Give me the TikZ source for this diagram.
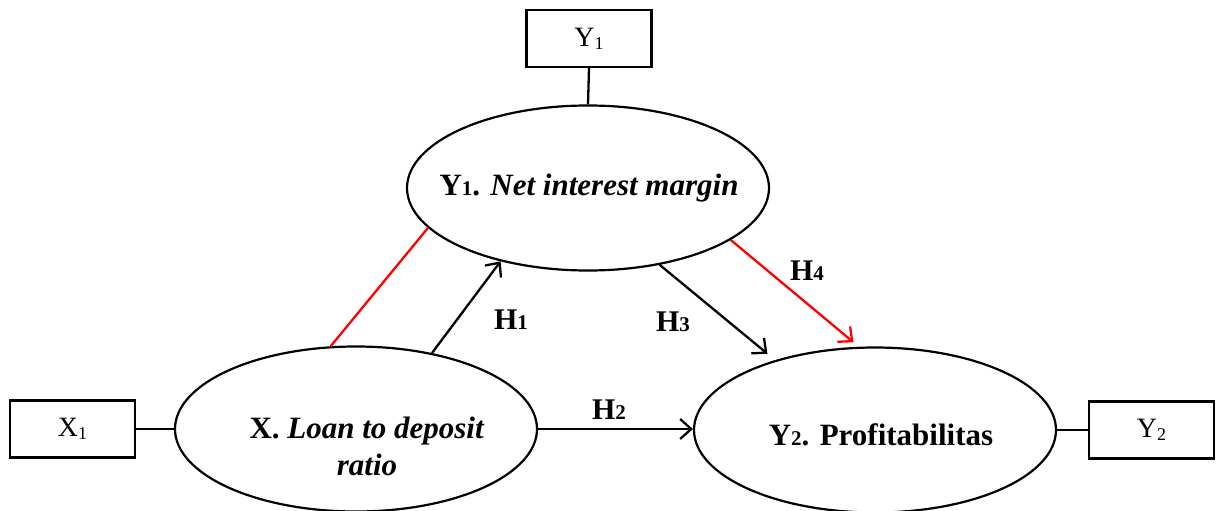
\documentclass[tikz,border=0pt]{standalone}
\usepackage{fontspec}
\setmainfont{Liberation Serif}[BoldFont={Liberation Serif Bold},ItalicFont={Liberation Serif Italic},BoldItalicFont={Liberation Serif Bold Italic}]
\usetikzlibrary{arrows.meta,shapes.geometric}
\newcommand\ellsub[1]{{\fontsize{21}{21}\selectfont #1}}
\newcommand\boxsub[1]{\raisebox{-3pt}{\fontsize{18}{18}\selectfont #1}}
\begin{document}
\begin{tikzpicture}[x=1pt,y=-1pt,
  ln/.style={line width=2.3pt},
  ell/.style={ellipse,draw,line width=2.2pt,minimum width=362pt,minimum height=165pt,inner sep=0pt},
  box/.style={rectangle,draw,line width=2.2pt,minimum width=125pt,minimum height=57pt,inner sep=0pt,font=\fontsize{28}{32}\selectfont},
  arr/.style={line width=2.3pt,-{Straight Barb[length=11pt,width=20pt,line width=2.3pt]}},
  hlab/.style={font=\fontsize{30}{34}\selectfont\bfseries},
  etext/.style={font=\fontsize{31}{37}\selectfont\bfseries,align=center}]
\useasboundingbox (0,0) rectangle (1218,511);
% ellipses
\node[ell] (Y1e) at (588,188) {};
\node[etext] (Y1t) at (589,188) {Y\ellsub{1}. \textit{Net interest margin}};
\node[ell] (Xe) at (356,429) {};
\node[etext] (Xt) at (367,446) {X. \textit{Loan to deposit}\\\textit{ratio}};
\node[ell] (Y2e) at (875,430) {};
\node[etext] (Y2t) at (881,435) {Y\ellsub{2}. Profitabilitas};
% boxes
\node[box] (Y1b) at (589,38.5) {Y\boxsub{1}};
\node[box] (X1b) at (72.5,429) {X\boxsub{1}};
\node[box] (Y2b) at (1151.5,430) {Y\boxsub{2}};
% indicator lines
\draw[ln] (Y1b.south) -- (Y1e.north);
\draw[ln] (X1b.east) -- (Xe.west);
\draw[ln] (Y2e.east) -- (Y2b.west);
% structural paths
\draw[ln,red] (Y1e.194.4) -- (Xe.107);
\draw[arr] (Xe.45) -- (Y1e.220.1);
\draw[arr] (Xe.east) -- (Xe.east -| Y2e.west);
\draw[arr,shorten >=10pt] (Y1e.313.8) -- (Y2e.145.7);
\draw[arr,red,shorten >=7pt] (Y1e.340.4) -- (Y2e.101.7);
% labels
\node[hlab] (H1) at (511,320) {H\ellsub{1}};
\node[hlab] (H2) at (609,410) {H\ellsub{2}};
\node[hlab] (H3) at (673,322) {H\ellsub{3}};
\node[hlab] (H4) at (807,271) {H\ellsub{4}};
\end{tikzpicture}
\end{document}
